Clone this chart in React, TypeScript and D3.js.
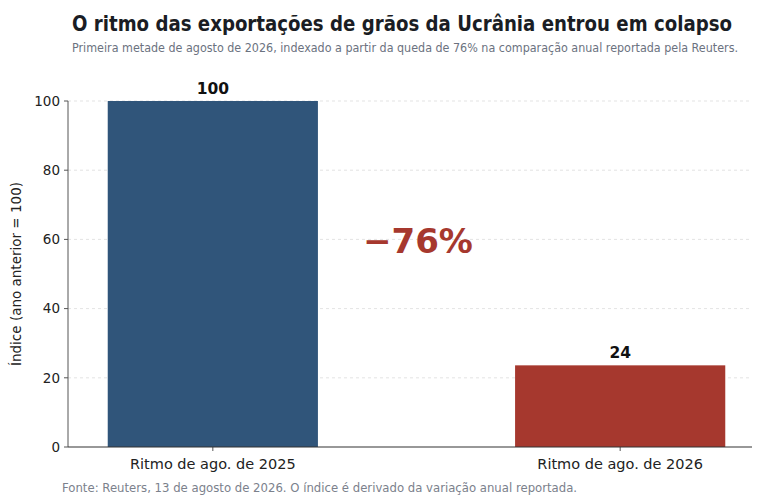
import React from "react";
import * as d3 from "d3";

const categories = ["Ritmo de ago. de 2025", "Ritmo de ago. de 2026"];
const values = [100, 23.6];
const valueLabels = ["100", "24"];
const yTicks = [0, 20, 40, 60, 80, 100];
const changeLabel = "−76%";
const colors = ["#30557a", "#a6382e"];

const W = 768;
const H = 504;
const m = { left: 68, right: 752, top: 101, bottom: 447 };
const font = "DejaVu Sans, sans-serif";

export default function App() {
  const x = d3.scaleBand().domain(categories).range([67, 766]).paddingInner(0.484).paddingOuter(0.1);
  const y = d3.scaleLinear().domain([0, 100]).range([m.bottom, m.top]);
  const bw = x.bandwidth();
  return (
    <svg width={W} height={H} style={{ position: "absolute", left: 0, top: 0, background: "#fff" }} fontFamily={font}>
      <rect width={W} height={H} fill="#fff" />
      <text x={402} y={31} textAnchor="middle" fontSize={22} fontWeight="bold" fill="#1a1d24" textLength={660} lengthAdjust="spacingAndGlyphs">
        O ritmo das exportações de grãos da Ucrânia entrou em colapso
      </text>
      <text x={405} y={52} textAnchor="middle" fontSize={11.5} fill="#6b7280" textLength={666} lengthAdjust="spacingAndGlyphs">
        Primeira metade de agosto de 2026, indexado a partir da queda de 76% na comparação anual reportada pela Reuters.
      </text>
      {yTicks.map((t) => (
        <g key={t}>
          {t > 0 && (
            <line x1={m.left} x2={m.right} y1={y(t)} y2={y(t)} stroke="#dcdcdc" strokeWidth={0.8} strokeDasharray="3,3" />
          )}
          <line x1={m.left - 4} x2={m.left} y1={y(t)} y2={y(t)} stroke="#555" strokeWidth={1} />
          <text x={m.left - 8} y={y(t)} dy="0.35em" textAnchor="end" fontSize={13.5} fill="#222">
            {t}
          </text>
        </g>
      ))}
      {categories.map((c, i) => (
        <g key={c}>
          <rect x={x(c)!} y={y(values[i])} width={bw} height={y(0) - y(values[i])} fill={colors[i]} />
          <text x={x(c)! + bw / 2} y={y(values[i]) - 7} textAnchor="middle" fontSize={15.5} fontWeight="bold" fill="#111">
            {valueLabels[i]}
          </text>
          <line x1={x(c)! + bw / 2} x2={x(c)! + bw / 2} y1={m.bottom} y2={m.bottom + 4} stroke="#555" />
          <text x={x(c)! + bw / 2} y={m.bottom + 22} textAnchor="middle" fontSize={14.5} fill="#222">
            {c}
          </text>
        </g>
      ))}
      <line x1={m.left} x2={m.left} y1={m.top} y2={m.bottom} stroke="#555" strokeWidth={1} />
      <line x1={m.left} x2={m.right} y1={m.bottom} y2={m.bottom} stroke="#333" strokeWidth={1.2} />
      <text x={418} y={y(56)} textAnchor="middle" fontSize={34} fontWeight="bold" fill="#a6382e">
        {changeLabel}
      </text>
      <text transform={`translate(21,${(m.top + m.bottom) / 2}) rotate(-90)`} textAnchor="middle" fontSize={13.5} fill="#222">
        Índice (ano anterior = 100)
      </text>
      <text x={62} y={492} fontSize={11.7} fill="#7b818c">
        Fonte: Reuters, 13 de agosto de 2026. O índice é derivado da variação anual reportada.
      </text>
    </svg>
  );
}
